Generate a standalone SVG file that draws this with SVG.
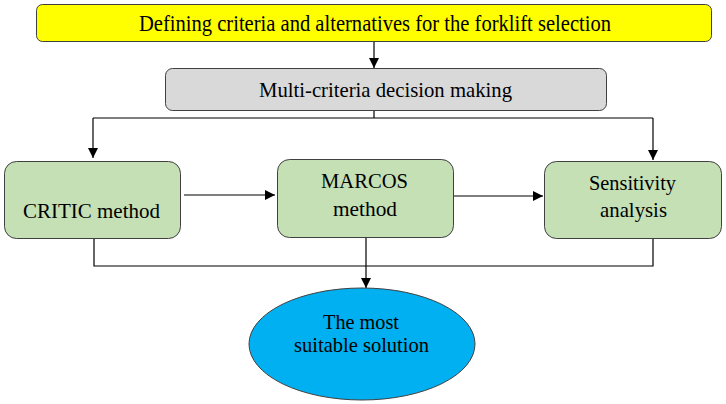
<svg xmlns="http://www.w3.org/2000/svg" width="726" height="404" viewBox="0 0 726 404">
<style>
.box{stroke:#404040;stroke-width:1}
.t{font-family:"Liberation Serif","Times New Roman",serif;font-size:22px;fill:#000;text-anchor:middle}
.c{fill:none;stroke:#000;stroke-width:1.2}
</style>
<defs>
<marker id="ah" viewBox="0 0 10 10" refX="10" refY="5" markerWidth="10" markerHeight="10" markerUnits="userSpaceOnUse" orient="auto">
<path d="M0,0 L10,5 L0,10 Z" fill="#000"/>
</marker>
</defs>
<rect width="726" height="404" fill="#fff"/>
<g id="connectors">
<path class="c" d="M374,42 V68" marker-end="url(#ah)"/>
<path class="c" d="M374,110 V118" stroke="#555"/>
<path class="c" d="M93,118 H653"/>
<path class="c" d="M93,118 V158" marker-end="url(#ah)"/>
<path class="c" d="M653,118 V160" marker-end="url(#ah)"/>
<path class="c" d="M184,195 H275" marker-end="url(#ah)"/>
<path class="c" d="M454,196 H543" marker-end="url(#ah)"/>
<path class="c" d="M94,238 V266 H653 V238"/>
<path class="c" d="M366,237 V288" marker-end="url(#ah)"/>
</g>
<g id="top">
<rect class="box" x="36.5" y="4.5" width="675" height="37" rx="6" fill="#FFFF00"/>
<text class="t" x="375" y="31" style="font-size:23px" textLength="472" lengthAdjust="spacingAndGlyphs">Defining criteria and alternatives for the forklift selection</text>
</g>
<g id="mcdm">
<rect class="box" x="165.5" y="68.5" width="441" height="42" rx="7" fill="#D9D9D9"/>
<text class="t" x="385.5" y="97" textLength="253" lengthAdjust="spacingAndGlyphs">Multi-criteria decision making</text>
</g>
<g id="critic">
<rect class="box" x="4.5" y="161.5" width="176" height="77" rx="12" fill="#C5E0B4"/>
<text class="t" x="91.5" y="218" textLength="137" lengthAdjust="spacingAndGlyphs">CRITIC method</text>
</g>
<g id="marcos">
<rect class="box" x="277.5" y="159.5" width="176" height="78" rx="12" fill="#C5E0B4"/>
<text class="t" x="364.5" y="188" textLength="87" lengthAdjust="spacingAndGlyphs">MARCOS</text>
<text class="t" x="365" y="216" textLength="64" lengthAdjust="spacingAndGlyphs">method</text>
</g>
<g id="sensitivity">
<rect class="box" x="544.5" y="161.5" width="177" height="77" rx="12" fill="#C5E0B4"/>
<text class="t" x="632.5" y="190" textLength="87" lengthAdjust="spacingAndGlyphs">Sensitivity</text>
<text class="t" x="633.5" y="217" textLength="67" lengthAdjust="spacingAndGlyphs">analysis</text>
</g>
<g id="solution">
<ellipse class="box" cx="362" cy="344" rx="113" ry="56" fill="#00B0F0"/>
<text class="t" x="361" y="329" style="font-size:21px" textLength="76" lengthAdjust="spacingAndGlyphs">The most</text>
<text class="t" x="361.5" y="352" style="font-size:21px" textLength="135" lengthAdjust="spacingAndGlyphs">suitable solution</text>
</g>
</svg>
